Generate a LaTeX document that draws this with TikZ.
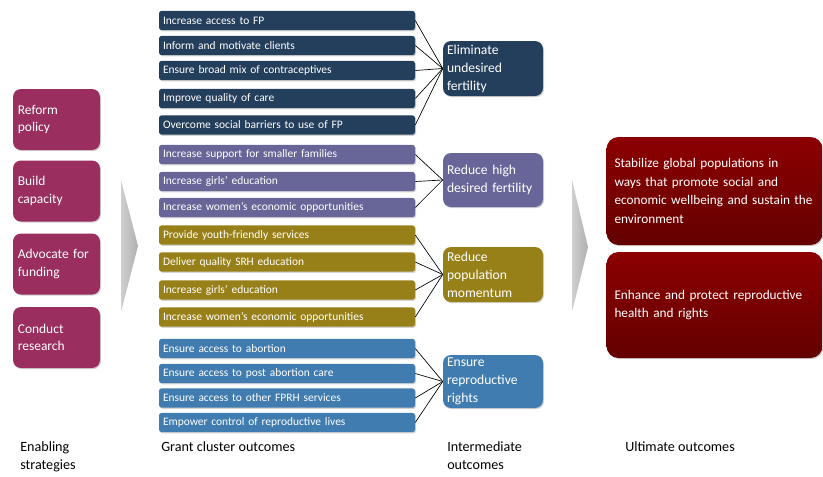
\documentclass[tikz,border=0pt]{standalone}
\usepackage{fontspec}
\setmainfont{Carlito}
\usetikzlibrary{shadows}
\definecolor{cnavy}{HTML}{243F5C}
\definecolor{cpurple}{HTML}{686698}
\definecolor{colive}{HTML}{988018}
\definecolor{cblue}{HTML}{407CB0}
\definecolor{cmag}{HTML}{9A2E5E}
\definecolor{credtop}{HTML}{8C0000}
\definecolor{credbot}{HTML}{640000}
\tikzset{
  shad/.style={drop shadow={shadow xshift=0.8pt,shadow yshift=-0.9pt,opacity=0.35}},
  smallbox/.style={shad,rounded corners=2pt,minimum width=192pt,minimum height=14.5pt,
    text width=186pt,inner xsep=3pt,inner ysep=0pt,align=left,text=white,
    font=\fontsize{8.6}{9}\selectfont},
  midbox/.style={shad,rounded corners=6pt,minimum width=75pt,text width=69pt,inner xsep=3pt,
    inner ysep=0pt,align=left,text=white,font=\fontsize{10.2}{13.5}\selectfont},
  leftbox/.style={shad,fill=cmag,rounded corners=6pt,minimum width=65.25pt,minimum height=45.75pt,
    text width=58pt,inner xsep=3.6pt,inner ysep=0pt,align=left,text=white,font=\fontsize{10.1}{13}\selectfont},
  rightbox/.style={shad,top color=credtop,bottom color=credbot,rounded corners=9pt,minimum width=161.25pt,
    text width=150pt,inner xsep=6pt,inner ysep=0pt,align=left,text=white,font=\fontsize{9.95}{13.8}\selectfont},
  link/.style={draw=black,line width=0.5pt},
  caption/.style={anchor=north west,inner sep=0pt,align=left,font=\fontsize{10.6}{13.5}\selectfont},
  chevron/.style={left color=gray!38,right color=gray!62}
}
\begin{document}
\begin{tikzpicture}[x=0.75pt,y=-0.75pt]
\useasboundingbox (0,0) rectangle (823,476);
% left boxes
\node[leftbox] (l1) at (56.5,119.5) {Reform\\policy};
\node[leftbox] (l2) at (56.5,191) {Build\\capacity};
\node[leftbox] (l3) at (56.5,264) {Advocate for\\funding};
\node[leftbox] (l4) at (56.5,337.5) {Conduct\\research};
% chevrons
\shade[chevron] (121,180) -- (138,246) -- (121,312) -- cycle;
\shade[chevron] (572,180) -- (588,247) -- (572,312) -- cycle;
% small boxes
\node[smallbox,fill=cnavy] (a1) at (287,20.5) {Increase access to FP};
\node[smallbox,fill=cnavy] (a2) at (287,45.5) {Inform and motivate clients};
\node[smallbox,fill=cnavy] (a3) at (287,70.5) {Ensure broad mix of contraceptives};
\node[smallbox,fill=cnavy] (a4) at (287,98.5) {Improve quality of care};
\node[smallbox,fill=cnavy] (a5) at (287,125) {Overcome social barriers to use of FP};
\node[smallbox,fill=cpurple] (b1) at (287,154.5) {Increase support for smaller families};
\node[smallbox,fill=cpurple] (b2) at (287,181.5) {Increase girls' education};
\node[smallbox,fill=cpurple] (b3) at (287,207.5) {Increase women's economic opportunities};
\node[smallbox,fill=colive] (c1) at (287,235) {Provide youth-friendly services};
\node[smallbox,fill=colive] (c2) at (287,262) {Deliver quality SRH education};
\node[smallbox,fill=colive] (c3) at (287,290) {Increase girls' education};
\node[smallbox,fill=colive] (c4) at (287,317) {Increase women's economic opportunities};
\node[smallbox,fill=cblue] (d1) at (287,348.5) {Ensure access to abortion};
\node[smallbox,fill=cblue] (d2) at (287,373.5) {Ensure access to post abortion care};
\node[smallbox,fill=cblue] (d3) at (287,398) {Ensure access to other FPRH services};
\node[smallbox,fill=cblue] (d4) at (287,422.5) {Empower control of reproductive lives};
% intermediate
\node[midbox,fill=cnavy,minimum height=41.25pt] (m1) at (493,68.5) {Eliminate\\undesired\\fertility};
\node[midbox,fill=cpurple,minimum height=40.5pt] (m2) at (493,180) {Reduce high\\desired fertility};
\node[midbox,fill=colive,minimum height=41.25pt] (m3) at (493,274.5) {Reduce\\population\\momentum};
\node[midbox,fill=cblue,minimum height=39.75pt] (m4) at (493,381.5) {Ensure\\reproductive\\rights};
% ultimate
\node[rightbox,minimum height=81pt] (u1) at (714.5,191) {Stabilize global populations in\\ways that promote social and\\economic wellbeing and sustain the\\environment};
\node[rightbox,minimum height=79.5pt] (u2) at (714.5,305) {Enhance and protect reproductive\\health and rights};
% connectors
\foreach \s in {a1,a2,a3,a4,a5} \draw[link] (\s.east) -- (m1.west);
\foreach \s in {b1,b2,b3} \draw[link] (\s.east) -- (m2.west);
\foreach \s in {c1,c2,c3,c4} \draw[link] (\s.east) -- (m3.west);
\foreach \s in {d1,d2,d3,d4} \draw[link] (\s.east) -- (m4.west);
% captions
\node[caption] (t1) at (20,441) {Enabling\\strategies};
\node[caption] (t2) at (161,441) {Grant cluster outcomes};
\node[caption] (t3) at (447,441) {Intermediate\\outcomes};
\node[caption] (t4) at (625,441) {Ultimate outcomes};
\end{tikzpicture}
\end{document}
